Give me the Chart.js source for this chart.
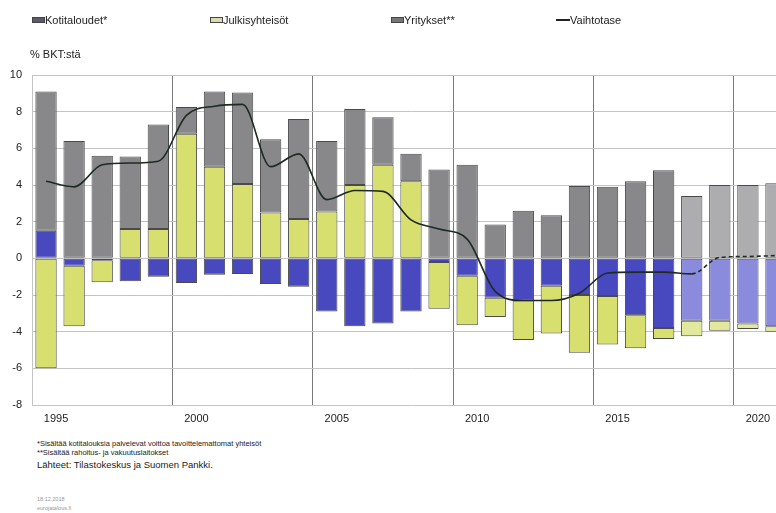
<!DOCTYPE html>
<html>
<head>
<meta charset="utf-8">
<script src="https://cdn.jsdelivr.net/npm/chart.js@4.4.0/dist/chart.umd.min.js"></script>
<style>
  body { margin: 0; width: 776px; height: 513px; overflow: hidden; background: #fff; font-family: 'Liberation Sans', Arial, sans-serif; }
  #wrap { position: relative; width: 776px; height: 513px; overflow: hidden; }
  #chartBox { position: absolute; left: 0; top: 0; width: 790px; height: 430px; }
  .lg { position: absolute; top: 14px; font-size: 11px; color: #222; white-space: nowrap; line-height: 12px; }
  .sw { display: inline-block; width: 13px; height: 6px; border: 1px solid #444; box-sizing: border-box; vertical-align: 1px; }
  .ln { display: inline-block; width: 14px; height: 2px; background: #222; vertical-align: 3px; }
  .txt { position: absolute; white-space: nowrap; color: #222; }
</style>
</head>
<body>
<div id="wrap">
  <div id="chartBox"><canvas id="balanceChart" width="790" height="430"></canvas></div>
  <div class="lg" style="left:32px"><span class="sw" style="background:#5a5a6a"></span>Kotitaloudet*</div>
  <div class="lg" style="left:210px"><span class="sw" style="background:#d8dcb0"></span>Julkisyhteisöt</div>
  <div class="lg" style="left:391px"><span class="sw" style="background:#777"></span>Yritykset**</div>
  <div class="lg" style="left:556px"><span class="ln"></span>Vaihtotase</div>
  <div class="txt" style="left:30px; top:48px; font-size:11px;">% BKT:stä</div>
  <div class="txt" style="left:37px; top:439px; font-size:7.5px;">*Sisältää kotitalouksia palvelevat voittoa tavoittelemattomat yhteisöt</div>
  <div class="txt" style="left:37px; top:448px; font-size:7.5px;">**Sisältää rahoitus- ja vakuutuslaitokset</div>
  <div class="txt" style="left:37px; top:459px; font-size:9.5px;">Lähteet: Tilastokeskus ja Suomen Pankki.</div>
  <div class="txt" style="left:37px; top:496px; font-size:5.5px; color:#999;">18.12.2018</div>
  <div class="txt" style="left:37px; top:505px; font-size:5.5px; color:#999;">eurojatalous.fi</div>
</div>
<script>
// % of GDP, 1995-2021 (2018 onwards forecast)
const years = [1995, 1996, 1997, 1998, 1999, 2000, 2001, 2002, 2003, 2004,
               2005, 2006, 2007, 2008, 2009, 2010, 2011, 2012, 2013, 2014,
               2015, 2016, 2017, 2018, 2019, 2020, 2021];
const households = [1.5, -0.4, -0.1, -1.25, -1.0, -1.35, -0.9, -0.85, -1.4, -1.55,
                    -2.9, -3.7, -3.55, -2.9, -0.2, -0.95, -2.15, -2.3, -1.5, -2.0,
                    -2.05, -3.1, -3.8, -3.4, -3.4, -3.55, -3.7];
const publicSector = [-6.0, -3.3, -1.2, 1.6, 1.6, 6.8, 5.0, 4.05, 2.5, 2.15,
                      2.55, 4.0, 5.1, 4.2, -2.55, -2.7, -1.05, -2.15, -2.6, -3.15,
                      -2.65, -1.8, -0.6, -0.85, -0.55, -0.3, -0.3];
const companies = [7.6, 6.4, 5.6, 3.95, 5.7, 1.45, 4.1, 5.0, 4.0, 5.45,
                   3.85, 4.15, 2.6, 1.5, 4.85, 5.1, 1.85, 2.6, 2.35, 3.95,
                   3.9, 4.2, 4.8, 3.4, 4.0, 4.0, 4.1];
const currentAccount = [4.2, 3.9, 5.1, 5.2, 5.3, 7.8, 8.3, 8.4, 5.0, 5.7,
                        3.2, 3.7, 3.65, 2.1, 1.6, 1.05, -1.8, -2.3, -2.3, -1.9,
                        -0.8, -0.75, -0.75, -0.85, 0.05, 0.1, 0.15];
const yTicks = [10, 8, 6, 4, 2, 0, -2, -4, -6, -8];
const forecastFrom = 2018;

const fcIdx = years.indexOf(forecastFrom);
const shade = (dark, light) => ctx => ctx.dataIndex >= fcIdx ? light : dark;

function barSet(label, data, dark, light) {
    return {
        type: 'bar',
        label: label,
        data: data,
        backgroundColor: shade(dark, light),
        borderColor: '#4a4a4a',
        borderWidth: 1,
        borderSkipped: false,
        barPercentage: 0.76,
        categoryPercentage: 1.0,
        stack: 'sectors',
        order: 1
    };
}

const canvas = document.getElementById('balanceChart');
new Chart(canvas.getContext('2d'), {
    data: {
        labels: years,
        datasets: [
            {
                type: 'line',
                label: 'Vaihtotase',
                data: currentAccount,
                borderColor: '#1e2a22',
                borderWidth: 1.6,
                pointRadius: 0,
                cubicInterpolationMode: 'monotone',
                stack: 'line',
                order: 0,
                segment: {
                    borderDash: ctx => ctx.p0DataIndex >= fcIdx ? [4, 3] : undefined
                }
            },
            barSet('Kotitaloudet*', households, '#4848bf', '#8b8bde'),
            barSet('Julkisyhteisöt', publicSector, '#d7df6e', '#e3e99c'),
            barSet('Yritykset**', companies, '#88888b', '#adadaf')
        ]
    },
    options: {
        responsive: false,
        animation: false,
        layout: { padding: { top: 75, right: 0, left: 0, bottom: 0 } },
        plugins: {
            legend: { display: false },
            tooltip: { enabled: false }
        },
        scales: {
            x: {
                stacked: true,
                offset: true,
                afterFit: scale => { scale.height = 25; },
                border: { display: false },
                grid: {
                    offset: true,
                    drawTicks: false,
                    color: ctx => (ctx.index > 0 && ctx.index % 5 === 0) ? '#7a7a7a' : 'transparent',
                    lineWidth: 1
                },
                ticks: {
                    autoSkip: false,
                    maxRotation: 0,
                    padding: 7,
                    labelOffset: 10,
                    color: '#222',
                    font: { family: 'Liberation Sans', size: 11 },
                    callback: function(value, index) {
                        const y = years[index];
                        return y % 5 === 0 ? String(y) : '';
                    }
                }
            },
            y: {
                stacked: true,
                min: -8,
                max: 10,
                afterFit: scale => { scale.width = 32; },
                afterBuildTicks: scale => { scale.ticks = yTicks.map(v => ({ value: v })); },
                border: { display: true, color: '#c4c4c4' },
                grid: {
                    drawTicks: false,
                    color: '#c4c4c4',
                    lineWidth: 1
                },
                ticks: {
                    padding: 10,
                    color: '#222',
                    font: { family: 'Liberation Sans', size: 11 }
                }
            }
        }
    }
});
</script>
</body>
</html>
